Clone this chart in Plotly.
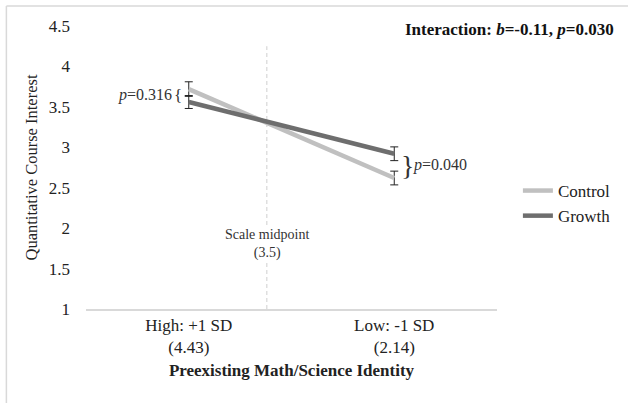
import plotly.graph_objects as go

# ---- data ----
categories = ["High: +1 SD<br>(4.43)", "Low: -1 SD<br>(2.14)"]
control_vals = [3.72, 2.62]
control_err = [0.09, 0.085]
growth_vals = [3.56, 2.92]
growth_err = [0.08, 0.085]
y_ticks = [1, 1.5, 2, 2.5, 3, 3.5, 4, 4.5]
y_tick_labels = ["1", "1.5", "2", "2.5", "3", "3.5", "4", "4.5"]
midline_pos = 0.38
p_high = "0.316"
p_low = "0.040"
interaction_text = "Interaction: <i>b</i>=-0.11, <i>p</i>=0.030"

FONT = "Liberation Serif"
W, H = 628, 403
ML, MR, MT, MB = 86, 129, 26, 94
PW, PH = W - ML - MR, H - MT - MB

def px_x(px):
    return (px - ML) / PW

def px_y(py):
    return 1 - (py - MT) / PH

x_idx = list(range(len(categories)))

fig = go.Figure()
fig.add_trace(go.Scatter(
    x=x_idx, y=control_vals, name="Control", mode="lines",
    line=dict(color="#c0c0c0", width=4.5),
    error_y=dict(type="data", array=control_err, color="#222222", thickness=1, width=4),
))
fig.add_trace(go.Scatter(
    x=x_idx, y=growth_vals, name="Growth", mode="lines",
    line=dict(color="#6e6e6e", width=4.5),
    error_y=dict(type="data", array=growth_err, color="#222222", thickness=1, width=4),
))

shapes = [
    dict(type="line", xref="x", yref="y", x0=midline_pos, x1=midline_pos, y0=1, y1=4.25,
         line=dict(color="#cfcfcf", width=1, dash="4px,3px"), layer="below"),
    dict(type="line", xref="paper", yref="paper", x0=px_x(6), x1=px_x(640), y0=px_y(6), y1=px_y(6),
         line=dict(color="#d9d9d9", width=1.5)),
    dict(type="line", xref="paper", yref="paper", x0=px_x(6), x1=px_x(6), y0=px_y(6), y1=px_y(420),
         line=dict(color="#d9d9d9", width=1.5)),
]

mid_high = (control_vals[0] + growth_vals[0]) / 2
mid_low = (control_vals[1] + growth_vals[1]) / 2

annotations = [
    dict(x=midline_pos, y=1.81, xref="x", yref="y", text="Scale midpoint<br>(3.5)",
         showarrow=False, font=dict(family=FONT, size=14, color="#333333"),
         bgcolor="white", borderpad=0),
    dict(x=0, y=mid_high, xref="x", yref="y", text="{", showarrow=False, xshift=-11,
         font=dict(family=FONT, size=17, color="#333333")),
    dict(x=0, y=mid_high, xref="x", yref="y", text="<i>p</i>=" + p_high, showarrow=False,
         xanchor="right", xshift=-15, yshift=1, font=dict(family=FONT, size=16, color="#333333")),
    dict(x=1, y=mid_low, xref="x", yref="y", text="}", showarrow=False, xshift=13,
         font=dict(family=FONT, size=28, color="#333333")),
    dict(x=1, y=mid_low, xref="x", yref="y", text="<i>p</i>=" + p_low, showarrow=False,
         xanchor="left", xshift=17, yshift=1, font=dict(family=FONT, size=16, color="#333333")),
    dict(x=px_x(619), y=px_y(30), xref="paper", yref="paper", text="<b>" + interaction_text + "</b>",
         showarrow=False, xanchor="right", yanchor="middle",
         font=dict(family=FONT, size=17, color="#111111")),
]

fig.update_layout(
    width=W, height=H,
    margin=dict(l=ML, r=MR, t=MT, b=MB),
    paper_bgcolor="white", plot_bgcolor="white",
    font=dict(family=FONT, size=16, color="#222222"),
    shapes=shapes, annotations=annotations,
    showlegend=True,
    legend=dict(x=px_x(520), y=px_y(173), xanchor="left", yanchor="top",
                font=dict(family=FONT, size=17, color="#222222"),
                tracegroupgap=7, itemwidth=30, bgcolor="rgba(0,0,0,0)"),
    xaxis=dict(
        range=[-0.5, 1.5], tickmode="array", tickvals=x_idx, ticktext=categories,
        showgrid=False, zeroline=False, showline=True, linecolor="#d9d9d9", linewidth=1.5,
        ticks="", tickfont=dict(family=FONT, size=17, color="#222222"),
        title=dict(text="<b>Preexisting Math/Science Identity</b>",
                   font=dict(family=FONT, size=17, color="#222222"), standoff=8),
    ),
    yaxis=dict(
        range=[1, 4.5], tickmode="array", tickvals=y_ticks, ticktext=y_tick_labels,
        showgrid=False, zeroline=False, showline=False, ticks="",
        ticklabelstandoff=15,
        tickfont=dict(family=FONT, size=17, color="#222222"),
        title=dict(text="Quantitative Course Interest",
                   font=dict(family=FONT, size=16.5, color="#222222"), standoff=6),
    ),
)

fig.write_html("out.html")
